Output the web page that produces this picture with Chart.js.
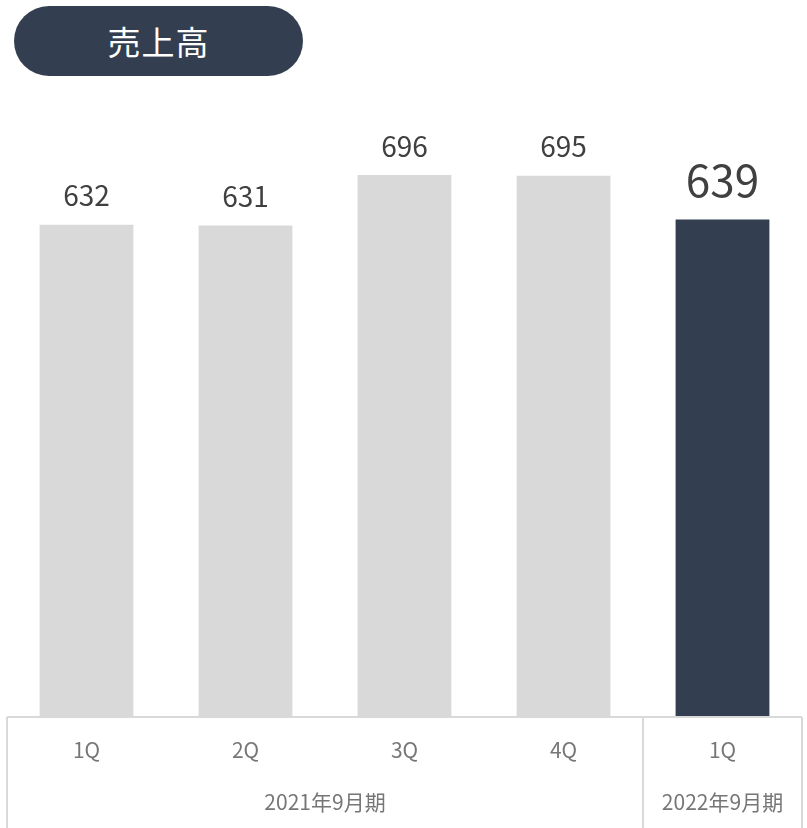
<!DOCTYPE html>
<html lang="ja">
<head>
<meta charset="utf-8">
<title>売上高</title>
<script src="https://cdn.jsdelivr.net/npm/chart.js@4/dist/chart.umd.min.js"></script>
<style>
  html, body { margin: 0; padding: 0; background: #fff; }
  body { width: 807px; height: 828px; position: relative; overflow: hidden; }
  #wrap { position: absolute; left: 0; top: 0; width: 807px; height: 828px; }
  .pill {
    position: absolute; left: 14px; top: 6px; width: 289px; height: 70px;
    border-radius: 35px; background: #333f50; color: #fff;
    font-family: "Noto Sans CJK JP", "Noto Sans", sans-serif; font-size: 33px;
    display: flex; align-items: center; justify-content: center; letter-spacing: 1px;
  }
</style>
</head>
<body>
<div class="pill">売上高</div>
<div id="wrap"><canvas id="c" width="807" height="828"></canvas></div>
<script>
// Quarterly net sales (百万円)
const quarters = ['1Q', '2Q', '3Q', '4Q', '1Q'];
const sales = [632, 631, 696, 695, 639];
const fiscalYears = ['2021年9月期', '2022年9月期'];
const yearSpans = [4, 1]; // number of quarters under each fiscal year

const FONT = '"Noto Sans CJK JP", "Noto Sans", sans-serif';
const barColors = sales.map((_, i) => i === sales.length - 1 ? '#333f50' : '#d9d9d9');

// Value labels above each bar, the latest quarter drawn larger
const valueLabels = {
  id: 'valueLabels',
  afterDatasetsDraw(chart) {
    const ctx = chart.ctx;
    const meta = chart.getDatasetMeta(0);
    ctx.save();
    ctx.textAlign = 'center';
    ctx.textBaseline = 'middle';
    meta.data.forEach((bar, i) => {
      const last = i === sales.length - 1;
      ctx.fillStyle = '#404040';
      ctx.font = (last ? '44px ' : '28px ') + FONT;
      ctx.fillText(String(sales[i]), bar.x, bar.y - (last ? 39 : 29));
    });
    ctx.restore();
  }
};

// Table-style category axis: frame lines and fiscal-year group labels
const axisTable = {
  id: 'axisTable',
  afterDraw(chart) {
    const ctx = chart.ctx;
    const x = chart.scales.x;
    const area = chart.chartArea;
    const step = (area.right - area.left) / quarters.length;
    const top = area.bottom;
    const bottom = chart.height;
    ctx.save();
    ctx.strokeStyle = '#d9d9d9';
    ctx.lineWidth = 2;
    ctx.beginPath();
    ctx.moveTo(area.left, top);
    ctx.lineTo(area.right, top);
    let edge = area.left;
    ctx.moveTo(edge, top);
    ctx.lineTo(edge, bottom);
    yearSpans.forEach(n => {
      edge += n * step;
      ctx.moveTo(edge, top);
      ctx.lineTo(edge, bottom);
    });
    ctx.stroke();

    ctx.fillStyle = '#767676';
    ctx.font = '21px ' + FONT;
    ctx.textAlign = 'center';
    ctx.textBaseline = 'middle';
    let start = 0;
    fiscalYears.forEach((label, i) => {
      const first = x.getPixelForValue(start);
      const lastIdx = start + yearSpans[i] - 1;
      const lastPx = x.getPixelForValue(lastIdx);
      ctx.fillText(label, (first + lastPx) / 2, top + 85);
      start += yearSpans[i];
    });
    ctx.restore();
  }
};

new Chart(document.getElementById('c'), {
  type: 'bar',
  data: {
    labels: quarters,
    datasets: [{
      data: sales,
      backgroundColor: barColors,
      borderWidth: 0,
      categoryPercentage: 1.0,
      barPercentage: 0.59
    }]
  },
  options: {
    responsive: false,
    animation: false,
    layout: { padding: { top: 94, left: 7, right: 5, bottom: 0 } },
    plugins: { legend: { display: false }, tooltip: { enabled: false } },
    scales: {
      y: { display: false, min: 0, max: 800 },
      x: {
        grid: { display: false, drawTicks: false },
        border: { display: false },
        ticks: { color: '#767676', font: { family: FONT, size: 21 }, padding: 20 },
        afterFit(scale) { scale.height = 111; }
      }
    }
  },
  plugins: [valueLabels, axisTable]
});
</script>
</body>
</html>
